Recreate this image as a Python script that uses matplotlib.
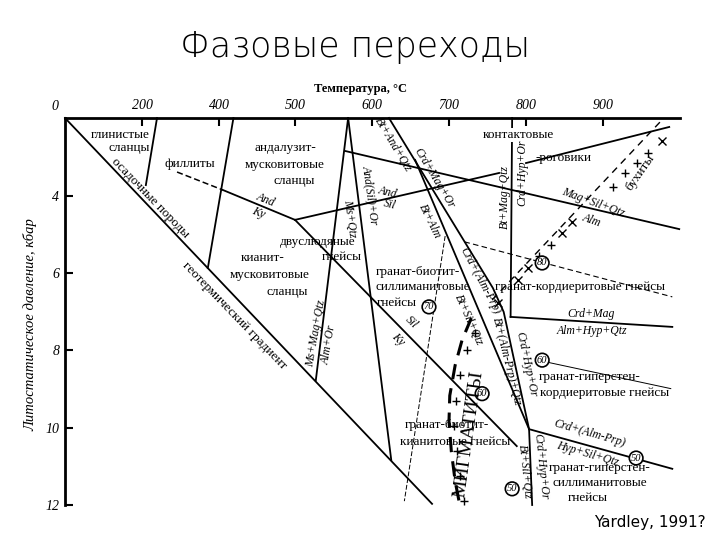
import numpy as np
import matplotlib.pyplot as plt

plt.rcParams['font.family'] = ['Liberation Serif', 'DejaVu Serif']

# scale of the axes: tick value -> offset along the axis (px)
T_TICKS = [0, 200, 400, 500, 600, 700, 800, 900, 1000]
T_POS = [0, 77, 154, 230, 307, 384, 461, 538, 615]
P_TICKS = [0, 4, 6, 8, 10, 12]
P_POS = [0, 78, 155, 232, 310, 387]

# phase boundaries, (T °C, P kbar)
geotherm = ([0, 678], [0, 11.97])
clay_bnd = ([239, 210], [0, 3.44])
phyl_bnd = ([419, 371], [0, 5.87])
phyl_dash = ([291, 405], [2.77, 3.69])
and_ky = ([405, 500], [3.69, 4.62])
and_sil = ([500, 765], [4.62, 2.82])
hornfels = ([800, 986], [2.31, 0.46])
ky_sil = ([500, 788], [4.62, 10.47])
ms_mag = ([569, 527], [0, 8.78])
ms_qtz = ([569, 625], [0, 10.83])
mag_sil = ([565, 999], [1.69, 4.86])
contact_v = ([782, 780], [0, 7.14])
crd_mag = ([780, 990], [7.14, 7.40])
band_a_T = [622, 757, 771, 804, 808]
band_a_P = [0, 6.39, 7.01, 10.03, 12.0]
band_x = ([656, 804], [2.15, 10.03])
crd_alm = ([804, 990], [10.03, 11.06])
dash80 = ([720, 990], [5.19, 6.62])
dash70 = ([695, 642], [5.04, 11.9])
line60 = ([827, 988], [8.31, 8.99])
buchite_line = ([756, 979], [6.70, 0])
migm_T = [729, 717, 708, 701, 700, 703, 708, 714]
migm_P = [7.17, 7.74, 8.39, 9.17, 9.82, 10.60, 11.38, 12.0]

cross_T = [969, 951, 936, 921, 905, 852, 839, 825, 809, 795, 782, 756]
cross_P = [1.18, 1.79, 2.31, 2.82, 3.54, 4.68, 4.96, 5.27, 5.56, 5.87, 6.18, 6.78]
cross_m = ['x', '+', '+', '+', '+', 'x', 'x', '+', '+', 'x', 'x', 'x']
migx_T = [734, 723, 714, 709, 707, 710, 714, 719]
migx_P = [7.56, 8.00, 8.65, 9.30, 9.95, 10.60, 11.25, 11.90]

circ_T = [674, 821, 821, 743, 943, 782]
circ_P = [6.88, 5.74, 8.26, 9.12, 10.78, 11.58]
circ_txt = ['70', '80', '60', '60', '50', '50']


def t_fwd(t):
    return np.interp(t, T_TICKS, T_POS)


def t_inv(u):
    return np.interp(u, T_POS, T_TICKS)


def p_fwd(p):
    return np.interp(p, P_TICKS, P_POS)


def p_inv(u):
    return np.interp(u, P_POS, P_TICKS)


fig = plt.figure(figsize=(7.2, 5.4), dpi=100)
ax = fig.add_axes([65/720, 1-505/540, 615/720, 387/540])
ax.set_xscale('function', functions=(t_fwd, t_inv))
ax.set_yscale('function', functions=(p_fwd, p_inv))
ax.set_xlim(0, 1000)
ax.set_ylim(12, 0)


def px(x, y):
    return x/720, 1 - y/540


def put(x, y, s, **kw):
    kw.setdefault('ha', 'center')
    kw.setdefault('va', 'center')
    kw.setdefault('fontsize', 9.5)
    kw.setdefault('zorder', 5)
    fig.text(*px(x, y), s, **kw)


for sp in ['right', 'bottom']:
    ax.spines[sp].set_visible(False)
for sp in ['left', 'top']:
    ax.spines[sp].set_linewidth(2)
ax.xaxis.tick_top()
ax.set_xticks([200, 400, 500, 600, 700, 800, 900])
ax.set_yticks([4, 6, 8, 10, 12])
ax.tick_params(direction='in', length=6, width=1.5, labelsize=10, pad=4)
for lab in ax.get_xticklabels() + ax.get_yticklabels():
    lab.set_style('italic')
ax.xaxis.set_minor_locator(plt.NullLocator())
ax.yaxis.set_minor_locator(plt.NullLocator())

lw = 1.3
for ln in [geotherm, clay_bnd, phyl_bnd, and_ky, and_sil, hornfels, ky_sil, ms_mag,
           ms_qtz, mag_sil, contact_v, crd_mag, band_x, crd_alm]:
    ax.plot(ln[0], ln[1], color='black', lw=lw, clip_on=False)
ax.plot(band_a_T, band_a_P, color='black', lw=lw, clip_on=False)
ax.plot(*phyl_dash, color='black', lw=1.1, dashes=(4, 2))
ax.plot(*dash80, color='black', lw=0.8, dashes=(5, 3))
ax.plot(*dash70, color='black', lw=0.7, dashes=(5, 2))
ax.plot(*line60, color='black', lw=0.7)
ax.plot(*buchite_line, color='black', lw=1.0, dashes=(5, 4))
ax.plot(migm_T, migm_P, color='black', lw=2.2, dashes=(5, 3), clip_on=False)

for t, p, m in zip(cross_T, cross_P, cross_m):
    ax.plot(t + 8, p, marker=m, color='black', ms=6, mew=1.0)
for t, p in zip(migx_T, migx_P):
    ax.plot(t, p, marker='+', color='black', ms=5.5, mew=1.0)
for t, p, s in zip(circ_T, circ_P, circ_txt):
    ax.text(t, p, s, ha='center', va='center', fontsize=7.5, style='italic', zorder=6,
            bbox=dict(boxstyle='circle,pad=0.15', fc='white', ec='black', lw=1.2))

# titles
put(355, 47, 'Фазовые переходы', fontsize=25, family='DejaVu Sans', fontweight='light')
put(360, 89, 'Температура, °С', fontsize=9, fontweight='bold')
put(30, 325, 'Литостатическое давление, кбар', rotation=90, fontsize=10.5, style='italic')
put(55, 107, '0', style='italic', fontsize=10)
put(650, 523, 'Yardley, 1991?', fontsize=11, family='DejaVu Sans')

white = dict(fc='white', ec='none', pad=0.5)

# rock names
put(150, 135, 'глинистые', ha='right')
put(150, 148, 'сланцы', ha='right')
put(190, 164, 'филлиты')
put(285, 148, 'андалузит-')
put(285, 165, 'мусковитовые')
put(294, 181, 'сланцы')
put(318, 242, 'двуслюдяные')
put(342, 257, 'гнейсы')
put(263, 258, 'кианит-')
put(270, 275, 'мусковитовые')
put(287, 292, 'сланцы')
put(150, 198, 'осадочные породы', rotation=-46)
put(234, 316, 'геотермический градиент', rotation=-46)
put(376, 272, 'гранат-биотит-', ha='left')
put(375, 287, 'силлиманитовые', ha='left')
put(377, 303, 'гнейсы', ha='left')
put(518, 135, 'контактовые', bbox=white)
put(563, 158, '-роговики')
put(640, 173, 'бухиты', rotation=55)
put(580, 287, 'гранат-кордиеритовые гнейсы')
put(590, 377, 'гранат-гиперстен-')
put(605, 393, 'кордиеритовые гнейсы')
put(447, 425, 'гранат-биотит-')
put(455, 442, 'кианитовые гнейсы')
put(600, 468, 'гранат-гиперстен-')
put(600, 483, 'силлиманитовые')
put(588, 498, 'гнейсы')
put(469, 434, 'МИГМАТИТЫ', rotation=82, fontsize=14)

# reaction labels
it = dict(style='italic', fontsize=8.5)
put(266, 200, 'And', rotation=-22, **it)
put(258, 213, 'Ky', rotation=-22, **it)
put(388, 192, 'And', rotation=-14, **it)
put(390, 205, 'Sil', rotation=-14, **it)
put(350, 218, 'Ms+Qtz', rotation=-82, **it)
put(370, 195, 'And(Sil)+Or', rotation=-82, **it)
put(393, 145, 'Bt+And+Qtz', rotation=-59, **it)
put(434, 178, 'Crd+Mag+Or', rotation=-59, **it)
put(430, 221, 'Bt+Alm', rotation=-64, **it)
put(480, 281, 'Crd+(Alm-Prp)', rotation=-62, **it)
put(469, 320, 'Bt+Sil+Qtz', rotation=-66, **it)
put(507, 362, 'Bt+(Alm-Prp)+Qtz', rotation=-76, **it)
put(526, 364, 'Crd+Hyp+Or', rotation=-78, **it)
put(505, 197, 'Bt+Mag+Qtz', rotation=90, **it)
put(522, 173, 'Crd+Hyp+Or', rotation=90, **it)
put(593, 203, 'Mag+Sil+Qtz', rotation=-20, **it)
put(592, 220, 'Alm', rotation=-20, **it)
put(591, 314, 'Crd+Mag', **it)
put(592, 331, 'Alm+Hyp+Qtz', **it)
put(411, 322, 'Sil', rotation=-45, **it)
put(398, 339, 'Ky', rotation=-45, **it)
put(316, 333, 'Ms+Mag+Qtz', rotation=80, **it)
put(329, 345, 'Alm+Or', rotation=80, **it)
put(590, 433, 'Crd+(Alm-Prp)', rotation=-16, **it)
put(588, 454, 'Hyp+Sil+Qtz', rotation=-16, **it)
put(525, 472, 'Bt+Sil+Qtz', rotation=-84, **it)
put(541, 466, 'Crd+Hyp+Or', rotation=-84, **it)

fig.savefig('out.png', dpi=100)
